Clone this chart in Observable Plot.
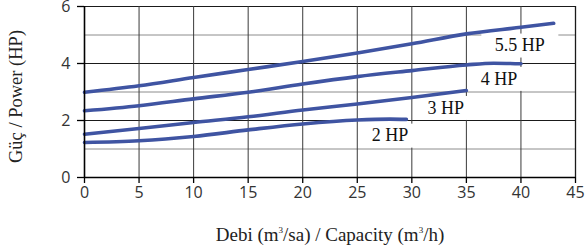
<!DOCTYPE html>
<html>
<head>
<meta charset="utf-8">
<script src="https://cdn.jsdelivr.net/npm/d3@7"></script>
<script src="https://cdn.jsdelivr.net/npm/@observablehq/plot@0.6"></script>
<style>
  html, body { margin: 0; padding: 0; background: #fff; }
  #chart { width: 585px; height: 249px; }
</style>
</head>
<body>
<div id="chart"></div>
<script>
// Data
const flow55 = [0, 5, 10, 15, 20, 25, 30, 35, 40, 43];
const hp55   = [2.99, 3.22, 3.51, 3.79, 4.07, 4.37, 4.69, 5.04, 5.27, 5.41];
const flow4  = [0, 5, 10, 15, 20, 25, 30, 35, 37.5, 40];
const hp4    = [2.34, 2.52, 2.76, 2.99, 3.28, 3.54, 3.75, 3.95, 4.01, 3.99];
const flow3  = [0, 5, 10, 15, 20, 25, 30, 35];
const hp3    = [1.52, 1.72, 1.93, 2.13, 2.37, 2.58, 2.81, 3.05];
const flow2  = [0, 5, 10, 15, 20, 25, 28, 29.5];
const hp2    = [1.23, 1.29, 1.44, 1.67, 1.88, 2.02, 2.05, 2.04];

const seriesNames = ["5.5 HP", "4 HP", "3 HP", "2 HP"];
const labelX = [39.9, 38.0, 33.1, 28.0];
const labelY = [4.63, 3.46, 2.44, 1.47];

const xTicks = [0, 5, 10, 15, 20, 25, 30, 35, 40, 45];
const yTicks = [0, 2, 4, 6];
const yMinorGrid = [1, 3, 5];
const yMajorGrid = [2, 4, 6];
const xGrid = [5, 10, 15, 20, 25, 30, 35, 40];

const curves = [
  {name: "5.5 HP", x: flow55, y: hp55},
  {name: "4 HP", x: flow4, y: hp4},
  {name: "3 HP", x: flow3, y: hp3},
  {name: "2 HP", x: flow2, y: hp2}
];
const rows = curves.flatMap(c => c.x.map((x, i) => ({series: c.name, x, y: c.y[i]})));
const labels = seriesNames.map((t, i) => ({t, x: labelX[i], y: labelY[i]}));

function withBoxes(index, scales, values, dimensions, context, next) {
  const g = next(index, scales, values, dimensions, context);
  const ns = "http://www.w3.org/2000/svg";
  for (const i of index) {
    const w = 8.5 * String(labels[i].t).length + 26;
    const h = 24;
    const r = document.createElementNS(ns, "rect");
    r.setAttribute("x", values.x[i] - w / 2);
    r.setAttribute("y", values.y[i] - h / 2);
    r.setAttribute("width", w);
    r.setAttribute("height", h);
    r.setAttribute("fill", "#fff");
    r.setAttribute("stroke", "none");
    g.insertBefore(r, g.firstChild);
  }
  return g;
}

const blue = "#3f54a2";

const plot = Plot.plot({
  width: 585,
  height: 249,
  marginLeft: 84,
  marginRight: 10,
  marginTop: 6,
  marginBottom: 72,
  style: {fontFamily: "'Open Sans', sans-serif", fontSize: "16px", background: "#fff", color: "#333"},
  x: {domain: [0, 45], label: null},
  y: {domain: [0, 6], label: null},
  marks: [
    Plot.gridY(yMinorGrid, {stroke: "#8c8c8c", strokeOpacity: 1, strokeWidth: 1}),
    Plot.gridY(yMajorGrid, {stroke: "#1a1a1a", strokeOpacity: 1, strokeWidth: 1.1}),
    Plot.gridX(xGrid, {stroke: "#3a3a3a", strokeOpacity: 1, strokeWidth: 1}),
    Plot.ruleX([45], {stroke: "#1a1a1a", strokeWidth: 1.3}),
    Plot.text(labels, {x: "x", y: "y", text: "t", fontFamily: "'Liberation Serif', serif", fontSize: 18, fill: "#111", render: withBoxes}),
    Plot.line(rows, {x: "x", y: "y", z: "series", stroke: blue, strokeWidth: 3.6, curve: "monotone-x"}),
    Plot.ruleY([0], {stroke: "#000", strokeWidth: 1.6}),
    Plot.ruleX([0], {stroke: "#000", strokeWidth: 1.6}),
    Plot.axisX(xTicks, {tickSize: 6, tickPadding: 3, stroke: "#000", strokeWidth: 1.3, fill: "#333", fontSize: 16, label: null}),
    Plot.axisY(yTicks, {tickSize: 7, tickPadding: 7, stroke: "#000", strokeWidth: 1.3, fill: "#333", fontSize: 16, label: null})
  ]
});

document.getElementById("chart").appendChild(plot);

const svg = d3.select(plot);
const serif = "'Liberation Serif', 'DejaVu Serif', serif";
const xt = svg.append("text")
  .attr("x", 330).attr("y", 241)
  .attr("text-anchor", "middle")
  .attr("font-family", serif).attr("font-size", 19).attr("fill", "#222");
xt.append("tspan").text("Debi (m");
xt.append("tspan").text("3").attr("font-size", 9).attr("dy", -8);
xt.append("tspan").text("/sa) / Capacity (m").attr("dy", 8);
xt.append("tspan").text("3").attr("font-size", 9).attr("dy", -8);
xt.append("tspan").text("/h)").attr("dy", 8);

svg.append("text")
  .attr("transform", "translate(21.5,96.5) rotate(-90)")
  .attr("text-anchor", "middle")
  .attr("font-family", serif).attr("font-size", 18.5).attr("fill", "#222")
  .text("Güç / Power (HP)");
</script>
</body>
</html>
